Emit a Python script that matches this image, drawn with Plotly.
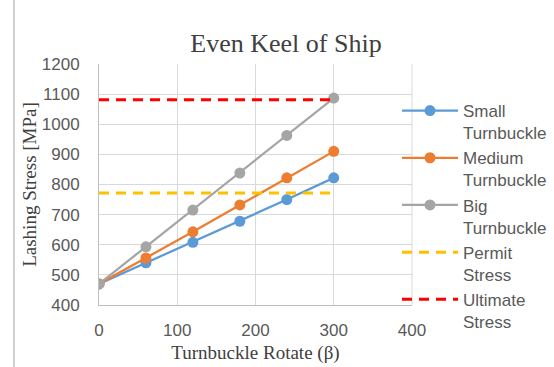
import plotly.graph_objects as go

rotate = [0, 60, 120, 180, 240, 300]
small = [470, 540, 608, 678, 750, 822]
medium = [470, 556, 643, 732, 822, 910]
big = [470, 593, 715, 838, 963, 1087]
permit_x = [0, 300]
permit = [772, 772]
ultimate_x = [0, 300]
ultimate = [1081, 1081]

names = ["Small<br>Turnbuckle", "Medium<br>Turnbuckle", "Big<br>Turnbuckle",
         "Permit<br>Stress", "Ultimate<br>Stress"]

fig = go.Figure()
for y, col, nm in [(small, "#5B9BD5", names[0]), (medium, "#ED7D31", names[1]), (big, "#A5A5A5", names[2])]:
    fig.add_trace(go.Scatter(x=rotate, y=y, mode="lines+markers", name=nm,
                             line=dict(color=col, width=2.25),
                             marker=dict(color=col, size=11)))
fig.add_trace(go.Scatter(x=permit_x, y=permit, mode="lines", name=names[3],
                         line=dict(color="#FFC000", width=3, dash="10px,7px")))
fig.add_trace(go.Scatter(x=ultimate_x, y=ultimate, mode="lines", name=names[4],
                         line=dict(color="#FF0000", width=3, dash="10px,7px")))

tickfont = dict(family="Liberation Sans, Arial, sans-serif", size=17, color="#595959")
serif = "Liberation Serif, Times New Roman, serif"

W, H = 554, 367
L, T = 99, 64
PW, PH = 313, 241

fig.update_layout(
    width=W, height=H,
    margin=dict(l=L, r=W - L - PW, t=T, b=H - T - PH, autoexpand=False),
    paper_bgcolor="white", plot_bgcolor="white",
    title=dict(text="Even Keel of Ship", x=((190 + 382) / 2) / W, xref="container",
               xanchor="center", y=1 - 43 / H, yref="container", yanchor="middle",
               font=dict(family=serif, size=26, color="#404040")),
    xaxis=dict(range=[0, 400], tickvals=[0, 100, 200, 300, 400], showgrid=True,
               gridcolor="#D9D9D9", gridwidth=1, zeroline=False, showline=True,
               linecolor="#BFBFBF", linewidth=1, mirror=False, ticks="",
               tickfont=tickfont, ticklabelstandoff=10, automargin=False,
               title=dict(text="Turnbuckle Rotate (β)", standoff=6,
                          font=dict(family=serif, size=19, color="#404040"))),
    yaxis=dict(range=[400, 1200], tickvals=list(range(400, 1201, 100)), showgrid=True,
               gridcolor="#D9D9D9", gridwidth=1, zeroline=False, showline=True,
               linecolor="#BFBFBF", linewidth=1, ticks="",
               tickfont=tickfont, ticklabelstandoff=15, automargin=False,
               title=dict(text="Lashing Stress [MPa]", standoff=0,
                          font=dict(family=serif, size=19, color="#404040"))),
    legend=dict(x=(397 - L) / PW, xanchor="left", y=1 - 29 / PH, yanchor="top",
                font=dict(family="Liberation Sans, Arial, sans-serif", size=17, color="#595959"),
                bgcolor="rgba(0,0,0,0)", valign="top", tracegroupgap=0, maxheight=400,
                itemwidth=56),
    showlegend=True,
)
fig.add_shape(type="line", xref="paper", yref="paper", x0=1, x1=1, y0=0, y1=1,
              line=dict(color="#D9D9D9", width=1))
fig.add_shape(type="line", xref="paper", yref="paper", x0=(14 - L) / PW, x1=(14 - L) / PW,
              y0=-2, y1=2, line=dict(color="#D0D0D0", width=2))
fig.write_html("out.html", config={"displayModeBar": False},
               post_script="document.body.style.margin='0';")
